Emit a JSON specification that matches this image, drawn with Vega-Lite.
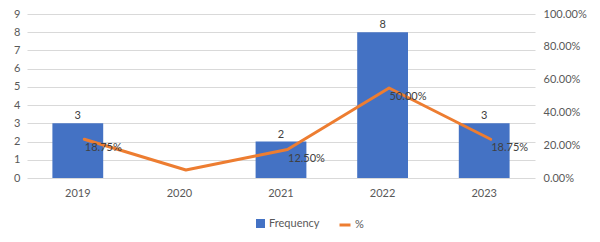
{
  "$schema": "https://vega.github.io/schema/vega-lite/v6.json",
  "width": 508,
  "height": 164,
  "autosize": {"type": "none"},
  "padding": {"left": 27, "top": 14, "right": 65, "bottom": 64},
  "data": {
    "values": [
      {"year": "2019", "Frequency": 3, "pct": 0.1875, "label": "18.75%"},
      {"year": "2020", "Frequency": 0, "pct": 0.0, "label": ""},
      {"year": "2021", "Frequency": 2, "pct": 0.125, "label": "12.50%"},
      {"year": "2022", "Frequency": 8, "pct": 0.5, "label": "50.00%"},
      {"year": "2023", "Frequency": 3, "pct": 0.1875, "label": "18.75%"}
    ]
  },
  "encoding": {
    "x": {
      "field": "year",
      "type": "ordinal",
      "scale": {"paddingInner": 0.5, "paddingOuter": 0.25},
      "axis": {"title": null, "labelAngle": 0, "domain": false, "ticks": false, "labelPadding": 9, "grid": false}
    }
  },
  "layer": [
    {
      "encoding": {
        "y": {
          "field": "Frequency",
          "type": "quantitative",
          "scale": {"domain": [0, 9], "nice": false},
          "axis": {"title": null, "values": [0, 1, 2, 3, 4, 5, 6, 7, 8, 9], "grid": true, "gridColor": "#D9D9D9", "domain": false, "ticks": false, "labelPadding": 7}
        }
      },
      "layer": [
        {
          "mark": {"type": "bar"},
          "encoding": {
            "fill": {
              "datum": "Frequency",
              "scale": {"range": ["#4472C4"]},
              "legend": {"orient": "none", "legendX": 228, "legendY": 204, "title": null, "symbolType": "square", "symbolSize": 81, "labelOffset": 3, "padding": 0}
            }
          }
        },
        {
          "transform": [{"filter": "datum.Frequency > 0"}],
          "mark": {"type": "text", "baseline": "middle", "dy": -7, "color": "#404040", "fontSize": 11},
          "encoding": {"text": {"field": "Frequency", "type": "quantitative"}}
        }
      ]
    },
    {
      "encoding": {
        "y": {
          "field": "pct",
          "type": "quantitative",
          "scale": {"domain": [0, 1], "nice": false},
          "axis": {"orient": "right", "title": null, "values": [0, 0.2, 0.4, 0.6, 0.8, 1], "format": ".2%", "grid": false, "domain": false, "ticks": false, "labelPadding": 8}
        }
      },
      "layer": [
        {
          "mark": {"type": "line", "strokeWidth": 3, "strokeCap": "round", "strokeJoin": "round", "xOffset": 6.5, "yOffset": -8},
          "encoding": {
            "stroke": {
              "datum": "%",
              "scale": {"range": ["#ED7D31"]},
              "legend": {"orient": "none", "legendX": 311, "legendY": 204, "title": null, "symbolType": "stroke", "symbolSize": 121, "symbolStrokeWidth": 3, "labelOffset": 3, "padding": 0}
            }
          }
        },
        {
          "mark": {"type": "text", "align": "left", "baseline": "middle", "dx": 7, "dy": 1, "color": "#404040", "fontSize": 11},
          "encoding": {"text": {"field": "label"}}
        }
      ]
    }
  ],
  "resolve": {"scale": {"y": "independent"}},
  "config": {
    "font": "Lato",
    "view": {"stroke": null},
    "axis": {"labelColor": "#595959", "labelFontSize": 11, "labelFont": "Lato"},
    "legend": {"labelColor": "#595959", "labelFontSize": 11, "labelFont": "Lato"},
    "text": {"font": "Lato"}
  }
}
